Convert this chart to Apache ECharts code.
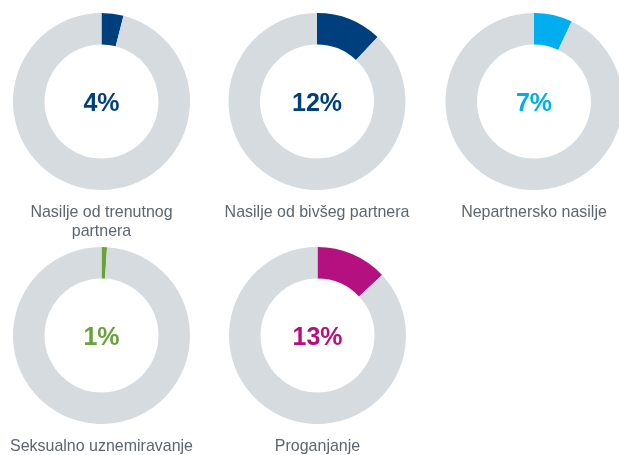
<!DOCTYPE html>
<html>
<head>
<meta charset="utf-8">
<style>
    html, body { margin: 0; padding: 0; background: #fff; }
    #chart { width: 619px; height: 455px; }
</style>
</head>
<body>
<div id="chart"></div>
<script src="https://cdn.jsdelivr.net/npm/echarts@6/dist/echarts.min.js"></script>
<script>
    // podaci
    const categories = ['Nasilje od trenutnog\npartnera', 'Nasilje od bivšeg partnera', 'Nepartnersko nasilje', 'Seksualno uznemiravanje', 'Proganjanje'];
    const values = [4, 12, 7, 1, 13];
    const colors = ['#003f7e', '#003f7e', '#00aeef', '#6aa23a', '#b5107f'];

    const centers = [[101.5, 101.5], [317, 101.5], [534, 101.5], [101.5, 335.5], [317.5, 335.5]];
    const labelY = [222, 212, 212, 446, 446];
    const font = '"Liberation Sans", Arial, sans-serif';

    let myChart = echarts.init(document.getElementById('chart'));

    let series = values.map(function (v, i) {
        return {
            type: 'pie',
            center: centers[i],
            radius: [57, 88.5],
            startAngle: 90,
            clockwise: true,
            silent: true,
            animation: false,
            labelLine: { show: false },
            data: [
                {
                    value: v,
                    itemStyle: { color: colors[i] },
                    label: {
                        show: true,
                        position: 'center',
                        formatter: v + '%',
                        color: colors[i],
                        fontFamily: font,
                        fontWeight: 'bold',
                        fontSize: 25,
                        offset: [0, 3]
                    }
                },
                {
                    value: 100 - v,
                    itemStyle: { color: '#d6dbdf' },
                    label: { show: false }
                }
            ]
        };
    });

    // nazivi ispod krugova
    let graphic = categories.map(function (c, i) {
        return {
            type: 'text',
            x: centers[i][0],
            y: labelY[i],
            scaleX: 0.94,
            style: {
                text: c,
                fill: '#5b6670',
                font: '17px ' + font,
                align: 'center',
                verticalAlign: 'middle',
                lineHeight: 19
            }
        };
    });

    myChart.setOption({
        backgroundColor: '#fff',
        animation: false,
        series: series,
        graphic: graphic
    });
</script>
</body>
</html>
